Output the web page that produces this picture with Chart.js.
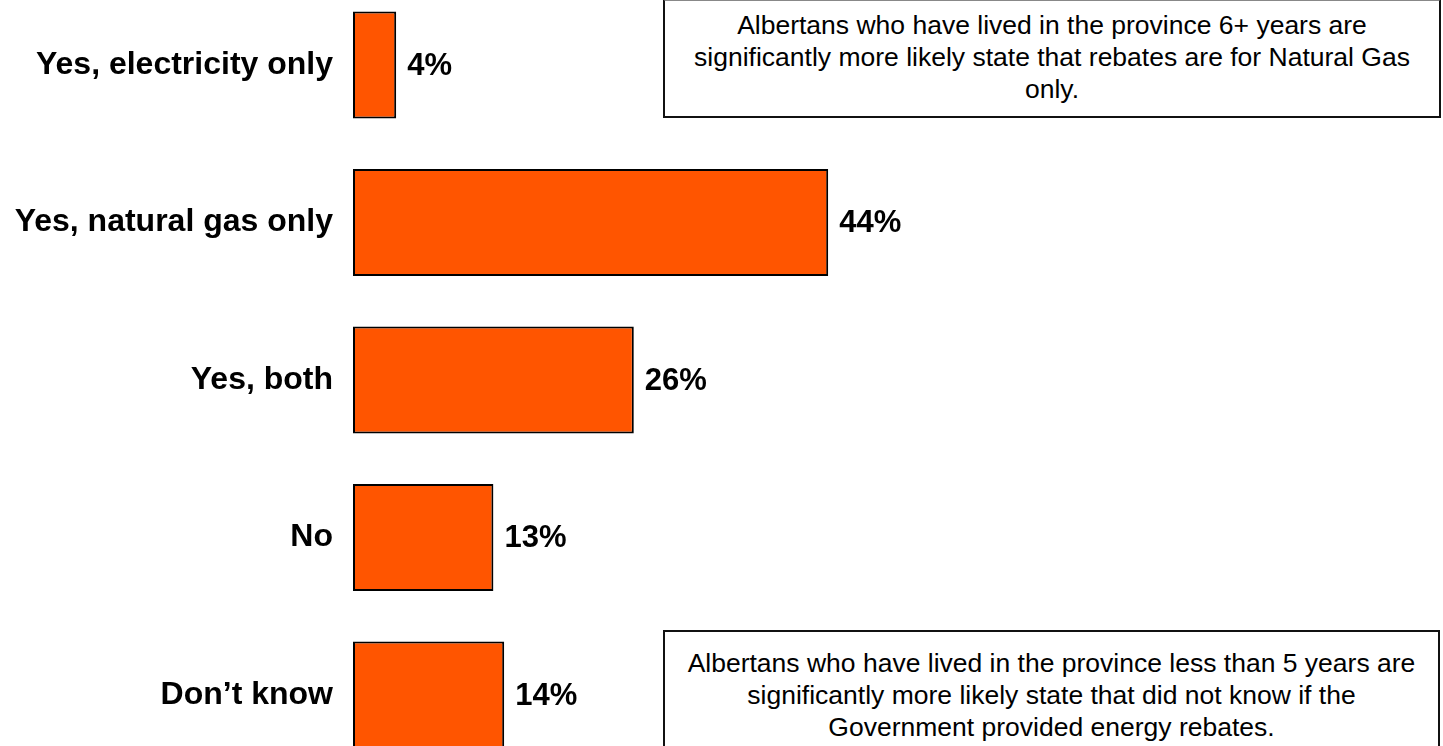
<!DOCTYPE html>
<html>
<head>
<meta charset="utf-8">
<script src="https://cdn.jsdelivr.net/npm/chart.js@4.4.0/dist/chart.umd.min.js"></script>
<style>
  html, body { margin: 0; padding: 0; background: #fff; overflow: hidden; }
  body { width: 1443px; height: 746px; position: relative; font-family: "Liberation Sans", Arial, sans-serif; }
  #wrap { position: absolute; left: 0; top: -53px; width: 1443px; height: 866px; }
  .note {
    position: absolute; box-sizing: border-box; border: 2px solid #111; background: #fff;
    font-size: 26.5px; line-height: 32px; text-align: center; color: #000;
  }
</style>
</head>
<body>
<div id="wrap"><canvas id="chart"></canvas></div>
<div class="note" style="left:663px; top:-1px; width:778px; height:119px; padding-top:8px; border-top-color:#888;">Albertans who have lived in the province 6+ years are<br>significantly more likely state that rebates are for Natural Gas<br>only.</div>
<div class="note" style="left:663px; top:630px; width:777px; height:130px; padding-top:15px;">Albertans who have lived in the province less than 5 years are<br>significantly more likely state that did not know if the<br>Government provided energy rebates.</div>
<script>
const categories = ["Yes, electricity only", "Yes, natural gas only", "Yes, both", "No", "Don\u2019t know"];
const percentages = [4, 44, 26, 13, 14];

// Writes the percentage to the right of each bar
const valueLabels = {
  id: 'valueLabels',
  afterDatasetsDraw(chart) {
    const { ctx } = chart;
    const meta = chart.getDatasetMeta(0);
    ctx.save();
    ctx.font = 'bold 31px "Liberation Sans", Arial, sans-serif';
    ctx.fillStyle = '#000';
    ctx.textAlign = 'left';
    ctx.textBaseline = 'middle';
    meta.data.forEach((bar, i) => {
      ctx.fillText(percentages[i] + '%', bar.x + 11, bar.y + 1);
    });
    ctx.restore();
  }
};

new Chart(document.getElementById('chart'), {
  type: 'bar',
  data: {
    labels: categories,
    datasets: [{
      data: percentages,
      backgroundColor: '#FF5500',
      borderColor: '#000',
      borderWidth: 2,
      borderSkipped: false,
      barPercentage: 0.68,
      categoryPercentage: 1
    }]
  },
  options: {
    indexAxis: 'y',
    responsive: true,
    maintainAspectRatio: false,
    animation: false,
    layout: { padding: { left: 0, right: 10, top: 0, bottom: 0 } },
    plugins: { legend: { display: false }, tooltip: { enabled: false } },
    scales: {
      x: { display: false, min: 0, max: 100 },
      y: {
        afterFit(scale) { scale.width = 353; },
        grid: { display: false, drawTicks: false },
        border: { display: false },
        ticks: {
          padding: 20,
          color: '#000',
          font: { family: '"Liberation Sans", Arial, sans-serif', size: 32, weight: 'bold' }
        }
      }
    }
  },
  plugins: [valueLabels]
});
</script>
</body>
</html>
